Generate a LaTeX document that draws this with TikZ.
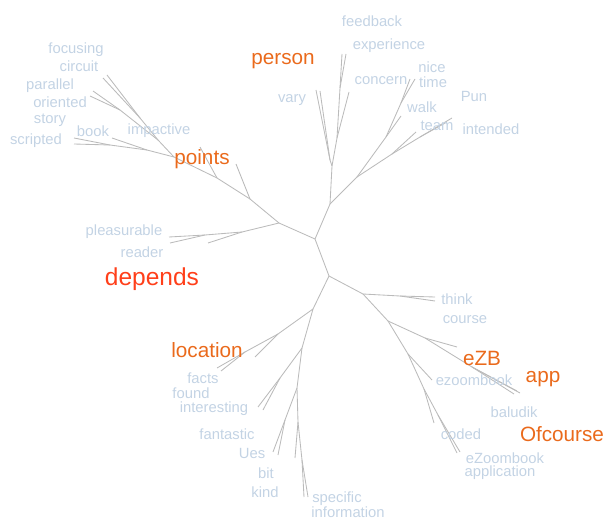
\documentclass[tikz,border=0pt]{standalone}
\usepackage{fontspec}
\setmainfont{Liberation Sans}
\usetikzlibrary{positioning}
\definecolor{branch}{HTML}{BBBBBB}
\definecolor{leaf}{HTML}{C3D3E4}
\definecolor{key}{HTML}{EA6A1C}
\definecolor{hot}{HTML}{FF3F1A}
\tikzset{
  edge/.style={draw=branch, line width=0.85pt},
  word/.style={text=leaf, inner sep=0pt, font=\fontsize{14.8}{16}\selectfont},
  keyword/.style={text=key, inner sep=0pt, font=\fontsize{20.7}{22}\selectfont},
}
\begin{document}
\begin{tikzpicture}[x=1pt, y=-1pt]
\useasboundingbox (0,0) rectangle (604,521);
% inner nodes
\coordinate (c0) at (315,239);
\coordinate (nA) at (330,204);
\coordinate (nA1) at (332,166);
\coordinate (nA11) at (330,160);
\coordinate (nA12) at (337,138);
\coordinate (nA121) at (340,88);
\coordinate (nA2) at (357,177);
\coordinate (nA21) at (392,154);
\coordinate (nA211) at (420,137);
\coordinate (nA22) at (386,137);
\coordinate (nA221) at (401,103);
\coordinate (nC) at (279,223);
\coordinate (nC1) at (242,232);
\coordinate (nC11) at (205,235);
\coordinate (nC2) at (250,199);
\coordinate (nC21) at (217,178);
\coordinate (nC211) at (174,157);
\coordinate (nC2111) at (147,150);
\coordinate (nC21111) at (110,145);
\coordinate (nC2112) at (158,140);
\coordinate (nC21121) at (140,118);
\coordinate (nC21122) at (120,110);
\coordinate (nB) at (329,276);
\coordinate (nB1) at (363,294);
\coordinate (nB12) at (400,296);
\coordinate (nB11) at (388,321);
\coordinate (nB111) at (425,338);
\coordinate (nB1111) at (472,367);
\coordinate (nB112) at (408,354);
\coordinate (nB1121) at (424,389);
\coordinate (nB11211) at (438,415);
\coordinate (nB2) at (313,309);
\coordinate (nB21) at (278,334);
\coordinate (nB211) at (245,352);
\coordinate (nB22) at (302,348);
\coordinate (nB221) at (280,378);
\coordinate (nB222) at (297,388);
\coordinate (nB2221) at (285,420);
\coordinate (nB2222) at (298,422);
\coordinate (nB22221) at (302,460);
% tips
\foreach \t/\p in {tA1/{316,90}, tA2/{320,91}, tA3/{342,54}, tA4/{346,54},
    tA5/{349,92}, tA6/{416,132}, tA7/{452,118}, tA8/{447,122}, tA9/{401,116},
    tA10/{410,79}, tA11/{415,79},
    tC1/{169,237}, tC2/{170,243}, tC3/{208,243}, tC4/{236,164}, tC5/{200,147},
    tC6/{112,138}, tC7/{74,138}, tC8/{74,144}, tC9/{107,75}, tC10/{103,78},
    tC11/{93,91}, tC12/{90,96},
    tB1/{435,297}, tB2/{435,301}, tB3/{457,347}, tB4/{517,391}, tB5/{520,393},
    tB6/{514,394}, tB7/{432,380}, tB8/{434,423}, tB9/{457,453}, tB10/{460,452},
    tB11/{217,368}, tB12/{221,371}, tB13/{255,357}, tB14/{258,407},
    tB15/{263,410}, tB16/{273,452}, tB17/{278,455}, tB18/{295,458},
    tB19/{304,497}, tB20/{308,497}}
  \coordinate (\t) at (\p);
% branches
\foreach \a/\b in {c0/nA, c0/nB, c0/nC,
    nA/nA1, nA1/nA11, nA11/tA1, nA11/tA2, nA1/nA12, nA12/nA121, nA121/tA3,
    nA121/tA4, nA12/tA5, nA/nA2, nA2/nA21, nA21/tA6, nA21/nA211, nA211/tA7,
    nA211/tA8, nA2/nA22, nA22/tA9, nA22/nA221, nA221/tA10, nA221/tA11,
    nC/nC1, nC1/nC11, nC11/tC1, nC11/tC2, nC1/tC3, nC/nC2, nC2/tC4,
    nC2/nC21, nC21/tC5, nC21/nC211, nC211/nC2111, nC2111/tC6,
    nC2111/nC21111, nC21111/tC7, nC21111/tC8, nC211/nC2112,
    nC2112/nC21121, nC21121/tC9, nC21121/tC10, nC2112/nC21122,
    nC21122/tC11, nC21122/tC12,
    nB/nB1, nB1/nB12, nB12/tB1, nB12/tB2, nB1/nB11, nB11/nB111, nB111/tB3,
    nB111/nB1111, nB1111/tB4, nB1111/tB5, nB1111/tB6, nB11/nB112,
    nB112/tB7, nB112/nB1121, nB1121/tB8, nB1121/nB11211, nB11211/tB9,
    nB11211/tB10,
    nB/nB2, nB2/nB21, nB21/nB211, nB211/tB11, nB211/tB12, nB21/tB13,
    nB2/nB22, nB22/nB221, nB221/tB14, nB221/tB15, nB22/nB222,
    nB222/nB2221, nB2221/tB16, nB2221/tB17, nB222/nB2222, nB2222/tB18,
    nB2222/nB22221, nB22221/tB19, nB22221/tB20}
  \draw[edge] (\a) -- (\b);
% words
\foreach \w/\p in {feedback/{372,21}, experience/{389,46}, nice/{432,67},
    time/{433,82}, concern/{381,81}, vary/{292,100}, walk/{422,107},
    Pun/{474,96}, team/{437,126}, intended/{491,129},
    focusing/{76,50}, circuit/{79,66}, parallel/{50,86}, oriented/{60,102},
    story/{50,120}, scripted/{36,141}, book/{93,131}, impactive/{159,131},
    pleasurable/{124,232}, reader/{142,252},
    think/{457,299}, course/{465,320}, ezoombook/{474,380}, baludik/{514,412},
    coded/{461,434}, eZoombook/{505,458}, application/{500,473},
    facts/{203,378}, found/{191,393}, interesting/{214,409},
    fantastic/{227,434}, Ues/{252,453}, bit/{266,473}, kind/{265,492},
    specific/{337,499}, information/{348,512}}
  \node[word] (w-\w) at (\p) {\w};
\foreach \w/\p in {person/{283,61}, points/{202,159}, location/{207,350},
    eZB/{482,358}, app/{543,379}, Ofcourse/{562,434}}
  \node[keyword] (w-\w) at (\p) {\w};
\node[keyword, text=hot, font=\fontsize{24.5}{26}\selectfont] (w-depends)
  at (152,279) {depends};
\end{tikzpicture}
\end{document}
